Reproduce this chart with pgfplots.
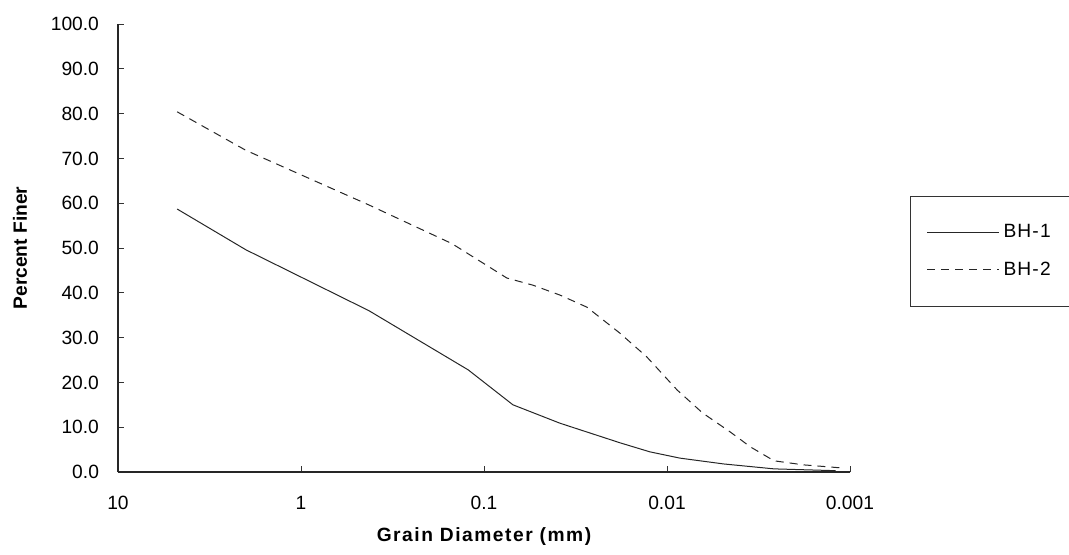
\documentclass[border=0pt]{standalone}
\usepackage{pgfplots}
\pgfplotsset{compat=1.18}
\usepackage{fontspec}
\setmainfont{Liberation Sans}
\newcommand{\fs}{\fontsize{9.6}{11}\selectfont}
\begin{document}
\begin{tikzpicture}
\begin{axis}[
  at={(0,0)}, anchor=south west,
  scale only axis, width=366pt, height=224pt,
  xmode=log, x dir=reverse, xmin=0.001, xmax=10,
  ymin=0, ymax=100,
  axis x line*=bottom, axis y line*=left,
  axis line style={black!85, line width=0.6pt, -},
  xtick={10,1,0.1,0.01,0.001},
  xticklabels={10,1,0.1,0.01,0.001},
  ytick={0,10,...,100},
  tick align=inside,
  major tick length=3pt, minor tick length=2pt,
  tick style={black!80, line width=0.4pt},
  /pgf/number format/assume math mode=true,
  yticklabel style={/pgf/number format/.cd, fixed, fixed zerofill, precision=1, /tikz/.cd, font=\fs, xshift=-6pt},
  xticklabel style={font=\fs, yshift=-8.5pt},
  xlabel={\addfontfeatures{LetterSpace=8}Grain Diameter (mm)},
  ylabel={Percent Finer},
  xlabel style={font=\fs\bfseries, at={(axis description cs:0.5,0)}, anchor=center, yshift=-32.5pt},
  ylabel style={font=\fs\bfseries, at={(axis description cs:0,0.5)}, anchor=center, yshift=49pt},
  legend style={at={(axis description cs:1.082,0.616)}, anchor=north west, draw=black!80, line width=0.5pt,
    inner xsep=8pt, inner ysep=12pt, row sep=6.5pt, font={\fs\addfontfeatures{LetterSpace=6}}, legend cell align=left,
    /tikz/every even column/.append style={column sep=8pt}},
  legend image code/.code={\draw[#1] (0pt,0pt) -- (36pt,0pt);},
]
\addplot[black!85, line width=0.5pt] coordinates {
(4.75,58.7) (2.0,49.6) (0.425,36.0) (0.122,22.8) (0.0695,15.0) (0.0385,10.9)
(0.018,6.5) (0.0124,4.5) (0.0085,3.1) (0.0049,1.8) (0.0026,0.7) (0.0012,0.3)
};
\addlegendentry{BH-1}
\addplot[black!85, line width=0.5pt, dash pattern=on 4pt off 3pt] coordinates {
(4.75,80.4) (2.0,71.8) (0.425,59.6) (0.15,51.0) (0.075,43.3) (0.054,41.7) (0.0385,39.5)
(0.0274,36.8) (0.0181,31.0) (0.0129,25.7) (0.0088,18.3) (0.0064,13.2) (0.0045,8.9)
(0.0035,5.6) (0.0026,2.5) (0.0018,1.6) (0.0011,0.9)
};
\addlegendentry{BH-2}
\end{axis}
\pgfresetboundingbox
\path (-59pt,-41pt) rectangle (475.5pt,236pt);
\end{tikzpicture}
\end{document}
